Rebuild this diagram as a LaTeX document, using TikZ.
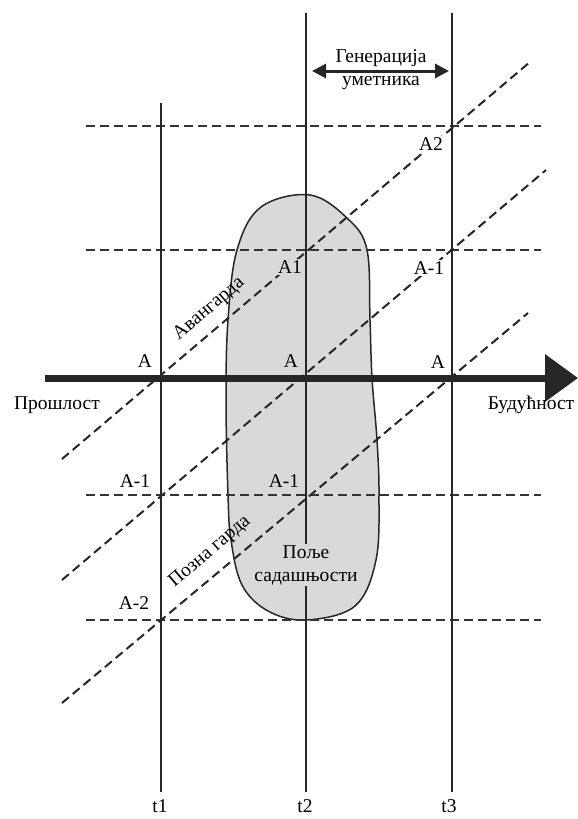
\documentclass[tikz,border=0pt]{standalone}
\usepackage{fontspec}
\setmainfont{Liberation Serif}
\usetikzlibrary{arrows.meta,calc}
\begin{document}
\begin{tikzpicture}[x=1pt,y=-1pt,
  lbl/.style={font=\fontsize{19.5}{23}\selectfont, inner sep=0pt, anchor=center},
  maskw/.style={fill=white, inner sep=1.5pt},
  maskg/.style={fill=black!15, inner sep=1.5pt},
  vline/.style={line width=1.6pt, draw=black!85},
  hdash/.style={line width=2pt, draw=black!80, dash pattern=on 9pt off 5pt},
  ddash/.style={line width=2pt, draw=black!85, dash pattern=on 9pt off 5pt},
  blob/.style={fill=black!15, draw=black!85, line width=1.5pt},
]
\useasboundingbox (0,0) rectangle (578,819);

% blob (field of the present)
\draw[blob] plot[smooth cycle, tension=0.6] coordinates {
  (310,195) (348,219) (367,250) (370,320) (372,378) (377,440) (379,495)
  (376,560) (355,606) (306,620) (268,611) (242,585) (231,540) (228,495)
  (226,400) (228,320) (237,250) (261,207)};

% horizontal dashed lines
\foreach \y/\n in {126/h1,250/h2,495/h3,620/h4}{
  \coordinate (\n l) at (86,\y);
  \coordinate (\n r) at (541,\y);
  \draw[hdash] (\n l) -- (\n r);
}

% diagonal dashed lines
\coordinate (d1a) at (62,459);  \coordinate (d1b) at (530,62);
\coordinate (d2a) at (62,580);  \coordinate (d2b) at (546,170);
\coordinate (d3a) at (62,703);  \coordinate (d3b) at (528,313);
\draw[ddash] (d1a) -- (d1b);
\draw[ddash] (d2a) -- (d2b);
\draw[ddash] (d3a) -- (d3b);

% vertical lines
\coordinate (t1top) at (161,103); \coordinate (t1bot) at (161,792);
\coordinate (t2top) at (306,13);  \coordinate (t2bot) at (306,792);
\coordinate (t3top) at (452,13);  \coordinate (t3bot) at (452,792);
\draw[vline] (t1top) -- (t1bot);
\draw[vline] (t2top) -- (t2bot);
\draw[vline] (t3top) -- (t3bot);

% main time arrow
\coordinate (past) at (45,378);
\coordinate (future) at (578,378);
\draw[line width=7pt, black!85, -{Triangle[length=33pt,width=46pt]}] (past) -- (future);

% generation arrow
\coordinate (g1) at (312,71);
\coordinate (g2) at (449,71);
\draw[line width=3pt, black!85, {Triangle[length=14pt,width=14pt]}-{Triangle[length=14pt,width=14pt]}] (g1) -- (g2);
\node[lbl] (gen1) at (381,58) {Генерација};
\node[lbl] (gen2) at (381,83) {уметника};

% labels on time axis
\node[lbl] (prosl) at (57,405) {Прошлост};
\node[lbl] (bud) at (531,405) {Будућност};

\node[lbl] (a1) at (145,361) {A};
\node[lbl] (a2) at (291,361) {A};
\node[lbl] (a3) at (438,362) {A};
\node[lbl, maskg] (aA1) at (290,267) {A1};
\node[lbl, maskw] (aA2) at (431,144) {A2};
\node[lbl, maskw] (aAm1r) at (429,268) {A-1};
\node[lbl] (aAm1l) at (135,481) {A-1};
\node[lbl] (aAm1m) at (284,481) {A-1};
\node[lbl] (aAm2) at (134,603) {A-2};

\node[lbl, rotate=40.5] (avant) at (209,309) {Авангарда};
\node[lbl, rotate=40.5] (pozna) at (210,552) {Позна гарда};

\node[lbl, maskg, align=center] (polje) at (306,565) {Поље\\садашњости};

\node[lbl] (lt1) at (160,806) {t1};
\node[lbl] (lt2) at (305,806) {t2};
\node[lbl] (lt3) at (449,806) {t3};
\end{tikzpicture}
\end{document}
